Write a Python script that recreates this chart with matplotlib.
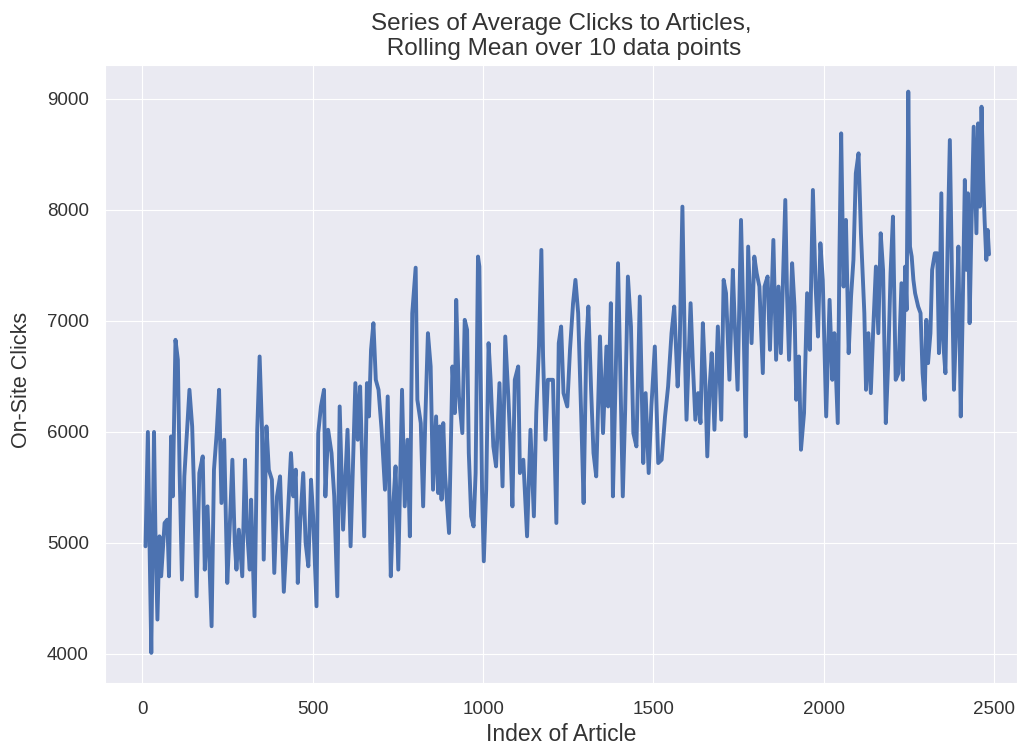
import matplotlib
matplotlib.use("Agg")
import matplotlib.pyplot as plt
import seaborn as sns
import pandas as pd

# rolling mean of clicks, turning points of the smoothed series
article_idx = [
    9, 16, 21, 26, 34, 38, 44, 50, 55, 65, 73, 78, 84, 89, 97, 104, 109, 116, 123, 138,
    146, 152, 159, 167, 177, 183, 191, 203, 210, 218, 225, 232, 240, 249, 256, 264, 271, 276, 283, 293,
    301, 307, 315, 319, 329, 337, 344, 351, 356, 364, 371, 380, 387, 395, 404, 415, 426, 436, 443, 450,
    456, 463, 472, 479, 487, 495, 501, 511, 516, 524, 533, 537, 545, 555, 563, 572, 579, 589, 602, 611,
    625, 632, 639, 651, 659, 665, 671, 678, 685, 693, 702, 712, 720, 729, 736, 743, 751, 756, 762, 770,
    778, 785, 792, 802, 807, 817, 824, 830, 838, 846, 853, 862, 868, 873, 878, 883, 888, 900, 910, 917,
    921, 929, 939, 946, 953, 958, 965, 972, 978, 985, 989, 997, 1002, 1009, 1016, 1022, 1030, 1038, 1048, 1057,
    1065, 1074, 1081, 1086, 1093, 1103, 1108, 1118, 1129, 1139, 1149, 1156, 1164, 1171, 1176, 1183, 1190, 1205, 1215, 1222,
    1229, 1236, 1247, 1255, 1264, 1271, 1279, 1288, 1295, 1303, 1309, 1317, 1324, 1332, 1343, 1352, 1362, 1367, 1375, 1381,
    1388, 1396, 1404, 1410, 1417, 1425, 1434, 1441, 1450, 1460, 1470, 1477, 1486, 1494, 1504, 1514, 1524, 1534, 1543, 1553,
    1561, 1571, 1577, 1585, 1592, 1597, 1609, 1616, 1623, 1631, 1638, 1645, 1652, 1658, 1665, 1671, 1679, 1689, 1699, 1706,
    1713, 1723, 1733, 1739, 1747, 1757, 1765, 1771, 1778, 1788, 1796, 1803, 1811, 1821, 1826, 1835, 1842, 1852, 1860, 1867,
    1874, 1887, 1892, 1898, 1907, 1914, 1919, 1927, 1933, 1942, 1951, 1959, 1968, 1976, 1983, 1990, 1997, 2007, 2017, 2025,
    2031, 2041, 2046, 2051, 2058, 2065, 2073, 2080, 2087, 2094, 2102, 2109, 2119, 2124, 2131, 2138, 2145, 2153, 2160, 2167,
    2174, 2182, 2189, 2196, 2203, 2211, 2219, 2228, 2232, 2236, 2239, 2243, 2248, 2253, 2258, 2263, 2268, 2277, 2284, 2290,
    2296, 2301, 2306, 2313, 2318, 2326, 2333, 2338, 2345, 2350, 2357, 2363, 2370, 2377, 2382, 2389, 2395, 2402, 2407, 2414,
    2419, 2423, 2428, 2433, 2440, 2448, 2453, 2458, 2463, 2468, 2472, 2477, 2481, 2485,
]
clicks_mean = [
    4970, 6000, 4970, 4010, 6000, 5120, 4310, 5060, 4700, 5180, 5210, 4700, 5960, 5420, 6830, 6650, 5660, 4670, 5600, 6380,
    6050, 5420, 4520, 5630, 5780, 4760, 5330, 4250, 5660, 5990, 6380, 5360, 5930, 4640, 5120, 5750, 5000, 4760, 5120, 4700,
    5750, 5120, 4760, 5390, 4340, 6020, 6680, 6020, 4850, 6050, 5660, 5570, 4730, 5420, 5600, 4560, 5200, 5810, 5420, 5660,
    4640, 5180, 5630, 5000, 4790, 5570, 5240, 4430, 5990, 6230, 6380, 5420, 6020, 5810, 5420, 4520, 6230, 5120, 6020, 4970,
    6440, 5930, 6410, 5060, 6440, 6140, 6740, 6980, 6470, 6380, 6020, 5480, 6320, 4700, 5330, 5690, 4760, 5480, 6380, 5330,
    5930, 5060, 7070, 7480, 6290, 6080, 5330, 6080, 6890, 6590, 5480, 6140, 5450, 6050, 5390, 6080, 5630, 5090, 6590, 6170,
    7190, 6320, 5990, 7010, 6920, 5810, 5240, 5150, 5630, 7580, 7490, 5450, 4835, 5480, 6800, 6470, 5870, 5690, 6440, 5510,
    6860, 6320, 5810, 5330, 6470, 6590, 5630, 5750, 5060, 6020, 5240, 6170, 6770, 7640, 6680, 5930, 6470, 6470, 5180, 6800,
    6950, 6350, 6230, 6740, 7160, 7370, 7070, 6140, 5360, 6800, 7130, 6380, 5810, 5600, 6860, 5990, 6770, 6230, 7160, 5420,
    6350, 7520, 6350, 5420, 6200, 7400, 6950, 5990, 5870, 7220, 5720, 6350, 5630, 6230, 6770, 5720, 5750, 6140, 6410, 6890,
    7130, 6410, 6770, 8030, 6770, 6110, 7160, 6590, 6110, 6350, 6080, 6980, 6470, 5780, 6410, 6710, 6020, 6950, 6110, 7370,
    7250, 6470, 7460, 6950, 6380, 7910, 6890, 5960, 7670, 6800, 7580, 7430, 7310, 6530, 7310, 7400, 6740, 7730, 6650, 7310,
    6710, 8090, 7250, 6650, 7520, 7130, 6290, 6680, 5840, 6170, 7250, 6740, 8180, 7310, 6860, 7700, 7370, 6140, 7190, 6470,
    6890, 6080, 7610, 8690, 7310, 7910, 6710, 7220, 7550, 8330, 8510, 7790, 7070, 6380, 6890, 6350, 6920, 7490, 6890, 7790,
    7460, 6080, 6620, 7430, 7940, 6470, 6530, 7340, 6470, 7070, 7490, 7100, 9066, 7670, 7580, 7370, 7250, 7130, 7070, 6530,
    6290, 7010, 6620, 6890, 7460, 7610, 7610, 6710, 8150, 6830, 6530, 7610, 8630, 7250, 6380, 7010, 7670, 6140, 6980, 8270,
    7460, 8150, 6980, 7790, 8750, 7790, 8780, 8030, 8930, 8270, 7910, 7550, 7820, 7600,
]

series = pd.Series(clicks_mean, index=article_idx)

sns.set_style("darkgrid")
plt.rcParams["font.family"] = ["Liberation Sans", "DejaVu Sans"]

fig = plt.figure(figsize=(10.19, 7.46), dpi=100)
ax = fig.add_axes([0.103, 0.0845, 0.895, 0.8284])
ax.plot(series.index, series.values, color="#4C72B0", linewidth=2.8)

ax.set_xlim(-110, 2567)
ax.set_ylim(3739, 9306)
ax.set_xticks([0, 500, 1000, 1500, 2000, 2500])
ax.set_yticks([4000, 5000, 6000, 7000, 8000, 9000])
ax.tick_params(labelsize=13.5, colors="#333333")
ax.tick_params(axis="y", pad=8)
ax.tick_params(axis="x", pad=9.7)

ax.set_title("Series of Average Clicks to Articles,\n Rolling Mean over 10 data points",
             fontsize=17.5, color="#333333", pad=7)
ax.set_xlabel("Index of Article", fontsize=16.5, color="#333333")
ax.set_ylabel("On-Site Clicks", fontsize=15.5, color="#333333")
ax.xaxis.set_label_coords(0.5, -0.065)
ax.yaxis.set_label_coords(-0.080, 0.49)

fig.savefig("out.png", dpi=100)
